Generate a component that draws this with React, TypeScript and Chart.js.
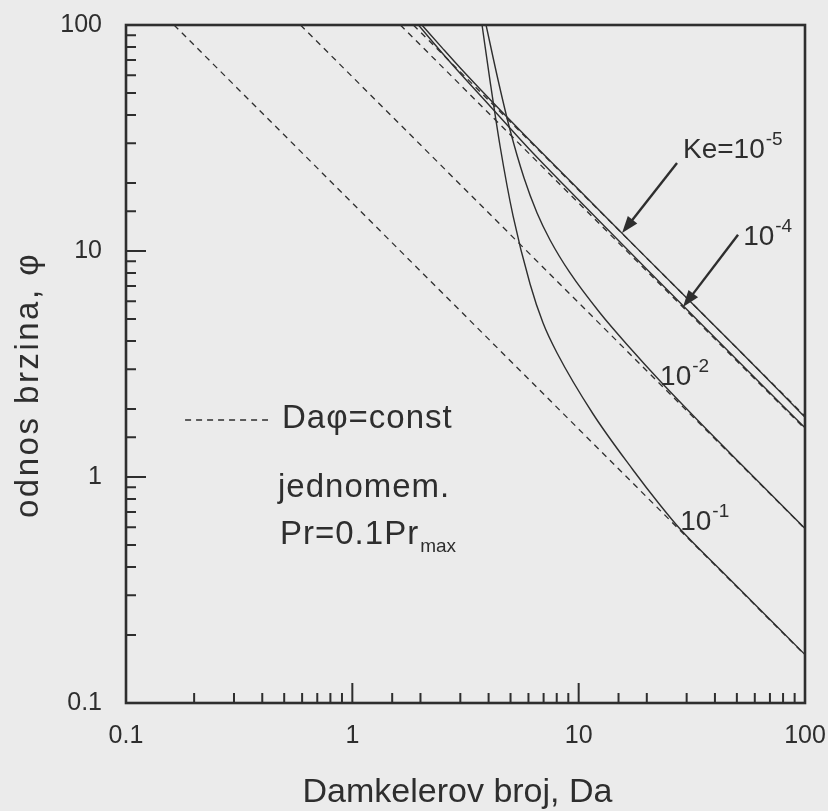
import React, { useEffect, useRef } from 'react';
import { Chart, registerables } from 'chart.js';

Chart.register(...registerables);

const FONT = "'Liberation Sans', Arial, Helvetica, sans-serif";
const INK = '#2e2e2e';
const PAPER = '#ebebeb';

// axis ranges, decade labels and titles
const DA_MIN = 0.1;
const DA_MAX = 100;
const PHI_MIN = 0.1;
const PHI_MAX = 100;
const DECADES = [0.1, 1, 10, 100];
const DECADE_LABELS = ['0.1', '1', '10', '100'];
const X_TITLE = 'Damkelerov broj, Da';
const Y_TITLE = 'odnos brzina, \u03c6';

// velocity ratio φ against Damköhler number Da, one curve per Ke
const KE5_DA = [2.03, 2.5, 3, 4, 6, 10, 20, 50, 100];
const KE5_PHI = [100, 79, 64.5, 47.5, 31.3, 18.7, 9.3, 3.72, 1.84];

const KE4_DA = [1.96, 2.5, 3, 4, 6, 10, 20, 50, 100];
const KE4_PHI = [100, 75, 61, 44.5, 28.5, 16.8, 8.3, 3.3, 1.65];

const KE2_DA = [3.898, 4.404, 4.976, 5.737, 6.549, 7.474, 9.162, 12.43, 16.87, 22.89, 32.03, 51.67, 100];
const KE2_PHI = [100, 57.1, 34.3, 21.04, 14.73, 11.19, 7.995, 5.317, 3.723, 2.66, 1.872, 1.151, 0.5923];

const KE1_DA = [3.742, 4.06, 4.494, 5.13, 6.099, 6.961, 8.026, 11.58, 17.39, 22.89, 28.06, 42.15, 100];
const KE1_PHI = [100, 56.5, 29.15, 14.29, 7.145, 4.8, 3.538, 1.9, 1.074, 0.7516, 0.5886, 0.3898, 0.1637];

// dashed guides Da·φ = const (end points)
const GUIDE_A_DA = [0.163, 100];
const GUIDE_A_PHI = [100, 0.163];
const GUIDE_B_DA = [0.59, 100];
const GUIDE_B_PHI = [100, 0.59];
const GUIDE_C_DA = [1.63, 100];
const GUIDE_C_PHI = [100, 1.63];
const GUIDE_D_DA = [1.86, 100];
const GUIDE_D_PHI = [100, 1.86];

// curve labels (base text, superscript, anchor in data units)
const CURVE_NOTES = [
  { base: 'Ke=10', sup: '-5', da: 28.9, phi: 25.8 },
  { base: '10', sup: '-4', da: 53.3, phi: 10.6 },
  { base: '10', sup: '-2', da: 22.9, phi: 2.55 },
  { base: '10', sup: '-1', da: 28.1, phi: 0.583 },
];

// pointer arrows, tail -> head, in data units
const ARROWS = [
  { from: [27.2, 24.5], to: [15.55, 12.0] },
  { from: [50.6, 11.8], to: [28.9, 5.65] },
];

// legend sample and notes, in data units
const LEGEND_LINE = { da0: 0.1824, da1: 0.424, phi: 1.787 };
const LEGEND_TEXT = { da: 0.489, phi: 1.647 };
const NOTE_LINE1 = { da: 0.4695, phi: 0.816 };
const NOTE_LINE2 = { da: 0.479, phi: 0.505 };

const isDecade = (v: number) => Math.abs(Math.log10(v) - Math.round(Math.log10(v))) < 1e-6;

const decadeLabel = (value: number | string) => {
  const v = Number(value);
  const i = DECADES.findIndex((d) => Math.abs(d - v) / d < 1e-6);
  return i >= 0 ? DECADE_LABELS[i] : '';
};

const pts = (xs: number[], ys: number[]) => xs.map((x, i) => ({ x, y: ys[i] }));

const solid = (data: { x: number; y: number }[]) => ({
  data,
  borderColor: INK,
  borderWidth: 1.4,
  pointRadius: 0,
  fill: false,
  cubicInterpolationMode: 'monotone' as const,
});

const dashed = (data: { x: number; y: number }[]) => ({
  data,
  borderColor: INK,
  borderWidth: 1.3,
  borderDash: [6, 5],
  pointRadius: 0,
  fill: false,
  tension: 0,
});

function drawArrow(ctx: CanvasRenderingContext2D, x0: number, y0: number, x1: number, y1: number) {
  const ang = Math.atan2(y1 - y0, x1 - x0);
  const head = 17;
  const half = 6;
  const bx = x1 - head * Math.cos(ang);
  const by = y1 - head * Math.sin(ang);
  ctx.beginPath();
  ctx.moveTo(x0, y0);
  ctx.lineTo(bx + 2 * Math.cos(ang), by + 2 * Math.sin(ang));
  ctx.stroke();
  ctx.beginPath();
  ctx.moveTo(x1, y1);
  ctx.lineTo(bx + half * Math.sin(ang), by - half * Math.cos(ang));
  ctx.lineTo(bx - half * Math.sin(ang), by + half * Math.cos(ang));
  ctx.closePath();
  ctx.fill();
}

function drawSup(ctx: CanvasRenderingContext2D, base: string, sup: string, x: number, y: number) {
  ctx.font = `28px ${FONT}`;
  ctx.fillText(base, x, y);
  const w = ctx.measureText(base).width;
  ctx.font = `19px ${FONT}`;
  ctx.fillText(sup, x + w + 1, y - 13);
}

function setSpacing(ctx: any, px: number) {
  if ('letterSpacing' in ctx) ctx.letterSpacing = `${px}px`;
}

const decorations = {
  id: 'decorations',
  beforeDraw(chart: any) {
    const { ctx, width, height } = chart;
    ctx.save();
    ctx.fillStyle = PAPER;
    ctx.fillRect(0, 0, width, height);
    ctx.restore();
  },
  afterDraw(chart: any) {
    const { ctx, chartArea: a } = chart;
    const xs = chart.scales.x;
    const ys = chart.scales.y;
    const px = (v: number) => xs.getPixelForValue(v);
    const py = (v: number) => ys.getPixelForValue(v);
    ctx.save();
    ctx.strokeStyle = INK;
    ctx.fillStyle = INK;

    // frame
    ctx.lineWidth = 2.6;
    ctx.strokeRect(a.left, a.top, a.right - a.left, a.bottom - a.top);

    // inward tick marks on bottom and left axes
    ctx.lineWidth = 2;
    ctx.beginPath();
    for (const t of xs.ticks) {
      const p = px(t.value);
      if (p <= a.left + 1 || p >= a.right - 1) continue;
      const len = isDecade(t.value) ? 20 : 10;
      ctx.moveTo(p, a.bottom);
      ctx.lineTo(p, a.bottom - len);
    }
    for (const t of ys.ticks) {
      const p = py(t.value);
      if (p <= a.top + 1 || p >= a.bottom - 1) continue;
      const len = isDecade(t.value) ? 20 : 10;
      ctx.moveTo(a.left, p);
      ctx.lineTo(a.left + len, p);
    }
    ctx.stroke();

    // arrows
    ctx.lineWidth = 2.4;
    for (const ar of ARROWS) {
      drawArrow(ctx, px(ar.from[0]), py(ar.from[1]), px(ar.to[0]), py(ar.to[1]));
    }

    // curve labels
    ctx.textBaseline = 'alphabetic';
    ctx.textAlign = 'left';
    for (const n of CURVE_NOTES) {
      drawSup(ctx, n.base, n.sup, px(n.da), py(n.phi));
    }

    // legend sample
    ctx.lineWidth = 1.3;
    ctx.setLineDash([6, 5]);
    ctx.beginPath();
    ctx.moveTo(px(LEGEND_LINE.da0), py(LEGEND_LINE.phi));
    ctx.lineTo(px(LEGEND_LINE.da1), py(LEGEND_LINE.phi));
    ctx.stroke();
    ctx.setLineDash([]);

    ctx.font = `33px ${FONT}`;
    setSpacing(ctx, 1);
    ctx.fillText('Da\u03c6=const', px(LEGEND_TEXT.da), py(LEGEND_TEXT.phi));
    ctx.fillText('jednomem.', px(NOTE_LINE1.da), py(NOTE_LINE1.phi));
    const x2 = px(NOTE_LINE2.da);
    const y2 = py(NOTE_LINE2.phi);
    ctx.fillText('Pr=0.1Pr', x2, y2);
    const w2 = ctx.measureText('Pr=0.1Pr').width;
    setSpacing(ctx, 0);
    ctx.font = `19px ${FONT}`;
    ctx.fillText('max', x2 + w2 + 1, y2 + 8);

    // axis titles
    ctx.font = `34px ${FONT}`;
    ctx.textAlign = 'center';
    ctx.fillText(X_TITLE, (a.left + a.right) / 2 - 8, a.bottom + 99);

    ctx.save();
    ctx.translate(a.left - 88, a.bottom - 185);
    ctx.rotate(-Math.PI / 2);
    ctx.textAlign = 'left';
    ctx.font = `33px ${FONT}`;
    setSpacing(ctx, 2.5);
    ctx.fillText(Y_TITLE, 0, 0);
    setSpacing(ctx, 0);
    ctx.restore();

    ctx.restore();
  },
};

const noScalePadding = (s: any) => {
  s.paddingLeft = 0;
  s.paddingRight = 0;
  s.paddingTop = 0;
  s.paddingBottom = 0;
};

export default function App() {
  const ref = useRef<HTMLCanvasElement | null>(null);

  useEffect(() => {
    if (!ref.current) return;
    const chart = new Chart(ref.current, {
      type: 'line',
      data: {
        datasets: [
          dashed(pts(GUIDE_A_DA, GUIDE_A_PHI)),
          dashed(pts(GUIDE_B_DA, GUIDE_B_PHI)),
          dashed(pts(GUIDE_C_DA, GUIDE_C_PHI)),
          dashed(pts(GUIDE_D_DA, GUIDE_D_PHI)),
          solid(pts(KE5_DA, KE5_PHI)),
          solid(pts(KE4_DA, KE4_PHI)),
          solid(pts(KE2_DA, KE2_PHI)),
          solid(pts(KE1_DA, KE1_PHI)),
        ] as any,
      },
      options: {
        responsive: false,
        animation: false,
        devicePixelRatio: 1,
        parsing: false as any,
        normalized: true,
        layout: { padding: { left: 0, right: 23, top: 25, bottom: 0 } },
        plugins: { legend: { display: false }, tooltip: { enabled: false } },
        scales: {
          x: {
            type: 'logarithmic',
            min: DA_MIN,
            max: DA_MAX,
            grid: { display: false, drawTicks: false },
            border: { display: false },
            ticks: {
              autoSkip: false,
              maxRotation: 0,
              padding: 18,
              color: INK,
              font: { family: FONT, size: 25 },
              callback: decadeLabel,
            },
            afterFit: (s: any) => {
              s.height = 108;
              noScalePadding(s);
            },
          },
          y: {
            type: 'logarithmic',
            min: PHI_MIN,
            max: PHI_MAX,
            grid: { display: false, drawTicks: false },
            border: { display: false },
            ticks: {
              autoSkip: false,
              padding: 24,
              color: INK,
              font: { family: FONT, size: 25 },
              callback: decadeLabel,
            },
            afterFit: (s: any) => {
              s.width = 126;
              noScalePadding(s);
            },
          },
        },
      } as any,
      plugins: [decorations],
    });
    return () => chart.destroy();
  }, []);

  return (
    <div style={{ position: 'absolute', left: 0, top: 0, width: 828, height: 811, background: PAPER }}>
      <canvas ref={ref} width={828} height={811} style={{ display: 'block' }} />
    </div>
  );
}
